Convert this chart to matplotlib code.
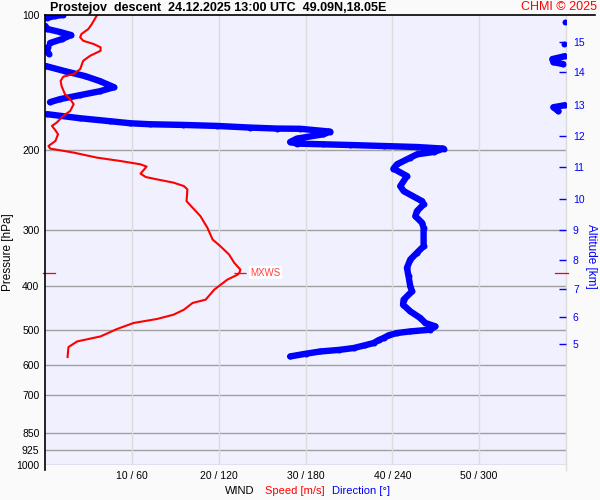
import numpy as np
import matplotlib
matplotlib.use("Agg")
import matplotlib.pyplot as plt
from matplotlib.ticker import NullLocator
from matplotlib.lines import Line2D
import matplotlib.transforms as mtransforms

plt.rcParams['font.family'] = ['Liberation Sans', 'DejaVu Sans']

# wind speed profile (hPa, m/s)
speed_p = [100, 104.7, 107.4, 110.2, 112.1, 114.1, 116.0, 118.0, 120.1, 123.2,
           126.4, 131.9, 135.3, 137.1, 140.1, 143.7, 150.0, 153.8, 157.8, 163.4,
           167.6, 173.4, 176.4, 180.4, 184.1, 190.5, 195.5, 198.1, 202.2, 207.5,
           211.1, 214.7, 217.2, 225.2, 229.1, 231.9, 235.8, 240.0, 244.1, 259.2,
           268.1, 279.9, 297.0, 315.4, 326.5, 340.7, 355.5, 367.9, 373.6, 377.4,
           387.3, 407.6, 429.1, 436.4, 451.7, 463.4, 473.7, 483.5, 498.6, 517.9,
           531.4, 546.9, 575.6]
speed_ms = [6.0, 5.4, 5.0, 4.2, 4.05, 4.4, 5.6, 6.4, 6.4, 5.2,
            4.4, 4.05, 3.3, 2.1, 1.8, 1.9, 2.3, 2.9, 3.3, 2.9,
            2.1, 1.35, 0.8, 1.2, 1.5, 1.2, 0.4, 0.6, 3.3, 6.0,
            8.7, 11.0, 11.7, 11.0, 11.6, 12.9, 14.8, 16.0, 16.4, 16.3,
            17.0, 17.9, 18.7, 19.3, 20.2, 21.2, 21.8, 22.5, 22.4, 22.2,
            21.0, 19.5, 18.5, 17.0, 16.0, 14.8, 12.9, 10.2, 8.3, 6.4,
            3.7, 2.7, 2.6]

# wind direction profile (hPa, degrees)
dir_p = [100, 100.5, 101.5, 103.7, 105.8, 107.4, 109.1, 110.8, 113.1, 115.4,
         116.0, 117.8, 120.3, 122.1, 123.4, 125.3, 127.3, 128.6, 129.9, 133.3,
         136.7, 140.3, 144.7, 147.7, 150.7, 153.8, 156.2, 158.6, 160.3, 163.6,
         166.1, 169.6, 172.2, 174.0, 174.9, 175.5, 176.4, 177.9, 178.8, 179.0,
         181.6, 184.1, 188.2, 191.5, 193.1, 193.8, 194.5, 195.5, 196.5, 198.1,
         201.6, 204.0, 207.5, 214.7, 219.5, 228.0, 240.0, 246.2, 259.2, 263.6,
         272.8, 279.9, 289.5, 297.0, 326.5, 337.7, 349.5, 364.7, 380.7, 400.8,
         411.2, 429.1, 440.2, 455.6, 471.3, 483.5, 492.0, 500.4, 505.0, 509.0,
         515.0, 522.2, 528.0, 535.8, 542.0, 549.7, 555.0, 559.4, 566.0, 573.8]
dir_deg = [12.4, 6.9, 1.4, 359.5, 0.3, 1.4, 10.4, 18.0, 11.8, 3.5,
           358.5, 2.1, 1.4, 2.8, 359.5, 350.6, 351.3, 358.1, 0.7, 13.8,
           27.7, 38.0, 47.7, 38.0, 24.2, 10.4, 3.5, 359.6, 351.3, 354.8,
           1.4, 24.2, 45.0, 58.8, 72.6, 95.6, 118.7, 141.8, 160.2, 176.3,
           197.1, 192.4, 174.1, 169.4, 174.1, 192.4, 210.9, 233.9, 257.0, 275.4,
           268.5, 257.0, 252.4, 243.2, 240.8, 250.1, 245.5, 247.8, 260.5, 261.6,
           257.0, 255.9, 260.5, 261.6, 261.6, 257.0, 252.4, 250.1, 251.2, 252.4,
           253.6, 247.8, 247.4, 252.4, 259.3, 262.8, 269.7, 266.2, 252.0, 243.2,
           237.5, 233.9, 230.5, 227.0, 221.0, 213.2, 203.0, 190.2, 180.0, 169.4]

mxws_p = 373.6
mxws_ms = 22.4

p_ticks = [100, 200, 300, 400, 500, 600, 700, 850, 925, 1000]
wind_ticks = [10, 20, 30, 40, 50]
wind_labels = ['10 / 60', '20 / 120', '30 / 180', '40 / 240', '50 / 300']
alt_km = [5, 6, 7, 8, 9, 10, 11, 12, 13, 14, 15]
alt_p = [537.6, 468.2, 405.5, 349.5, 299.7, 256.9, 218.0, 186.0, 158.7, 134.0, 114.8]

RED = '#ff0000'
BLUE = '#0000ff'

fig = plt.figure(figsize=(6, 5), dpi=100, facecolor='#fafafa')
ax = fig.add_axes([45 / 600, 35 / 500, 521 / 600, 450 / 500])
ax.set_facecolor('#f0f0ff')
ax.set_yscale('log')
ax.set_ylim(1000, 100)
ax.set_xlim(0, 60)
ax.yaxis.set_minor_locator(NullLocator())
ax.set_yticks(p_ticks)
ax.set_yticklabels([str(p) for p in p_ticks])
ax.set_xticks(wind_ticks)
ax.set_xticklabels(wind_labels)
ax.tick_params(axis='y', length=0, pad=4, labelsize=7.5)
ax.tick_params(axis='x', length=0, pad=4.5, labelsize=7.5)
for s in ax.spines.values():
    s.set_visible(False)

for p in p_ticks[1:]:
    ax.axhline(p, color='#a0a0a0', lw=1, zorder=1)
for w in wind_ticks:
    ax.axvline(w, color='#dcdcdc', lw=1, zorder=1)
# right edge line and left spine, both a bit longer than the plot
ax.plot([1, 1], [-0.012, 1], transform=ax.transAxes, color='#dcdcdc', lw=1, clip_on=False)
ax.plot([0, 0], [-0.012, 1], transform=ax.transAxes, color='black', lw=1.2, clip_on=False, zorder=5)

# direction, broken where it wraps around 0/360
d = np.array(dir_deg, dtype=float)
pp = np.array(dir_p, dtype=float)
cut = np.where(np.abs(np.diff(d)) > 180)[0] + 1
d_plot = np.insert(d, cut, np.nan)
p_plot = np.insert(pp, cut, np.nan)
ax.plot(d_plot / 6, p_plot, color=BLUE, lw=4.6, marker='o', ms=4.3, mew=0,
        solid_capstyle='round', solid_joinstyle='round', zorder=3)

ax.plot(speed_ms, speed_p, color=RED, lw=1.5, zorder=4)

# MXWS markers
trans = mtransforms.blended_transform_factory(ax.transAxes, ax.transData)
ax.plot([-0.004, 0.019], [mxws_p, mxws_p], transform=trans, color=RED, lw=0.9, clip_on=False)
ax.plot([0.978, 1.004], [mxws_p, mxws_p], transform=trans, color=RED, lw=0.9, clip_on=False)
ax.plot([mxws_ms], [mxws_p], marker='_', ms=8, mew=0.9, color=RED, zorder=5)
ax.annotate('MXWS', (mxws_ms, mxws_p), xytext=(8, 0), textcoords='offset points',
            color='#ff4040', fontsize=7, va='center', ha='left',
            bbox=dict(boxstyle='square,pad=0.15', fc='white', ec='none'))

# altitude axis
ax2 = ax.twinx()
ax2.set_yscale('log')
ax2.set_ylim(1000, 100)
ax2.yaxis.set_minor_locator(NullLocator())
ax2.set_yticks(alt_p)
ax2.set_yticklabels([str(a) for a in alt_km])
ax2.tick_params(axis='y', direction='in', length=5, width=1, color=BLUE,
                labelcolor=BLUE, pad=5, labelsize=7.5)
for s in ax2.spines.values():
    s.set_visible(False)

# header and labels
fig.add_artist(Line2D([45 / 600, 595 / 600], [1 - 15 / 500, 1 - 15 / 500], color='black', lw=1.2))
fig.text(50 / 600, 1 - 7.5 / 500, 'Prostejov  descent  24.12.2025 13:00 UTC  49.09N,18.05E',
         fontsize=9, fontweight='bold', ha='left', va='center')
fig.text(597 / 600, 1 - 7.5 / 500, 'CHMI © 2025', color=RED, fontsize=9, ha='right', va='center')
fig.text(8 / 600, 1 - 252 / 500, 'Pressure [hPa]', rotation=90, fontsize=8.5, ha='center', va='center')
fig.text(591 / 600, 1 - 256 / 500, 'Altitude [km]', rotation=270, fontsize=8.5, color=BLUE,
         ha='center', va='center')
fig.text(225 / 600, 1 - 491 / 500, 'WIND', fontsize=8, ha='left', va='center')
fig.text(265 / 600, 1 - 491 / 500, 'Speed [m/s]', fontsize=8, color=RED, ha='left', va='center')
fig.text(332 / 600, 1 - 491 / 500, 'Direction [°]', fontsize=8, color=BLUE, ha='left', va='center')

fig.savefig('out.png', dpi=100, facecolor=fig.get_facecolor())
